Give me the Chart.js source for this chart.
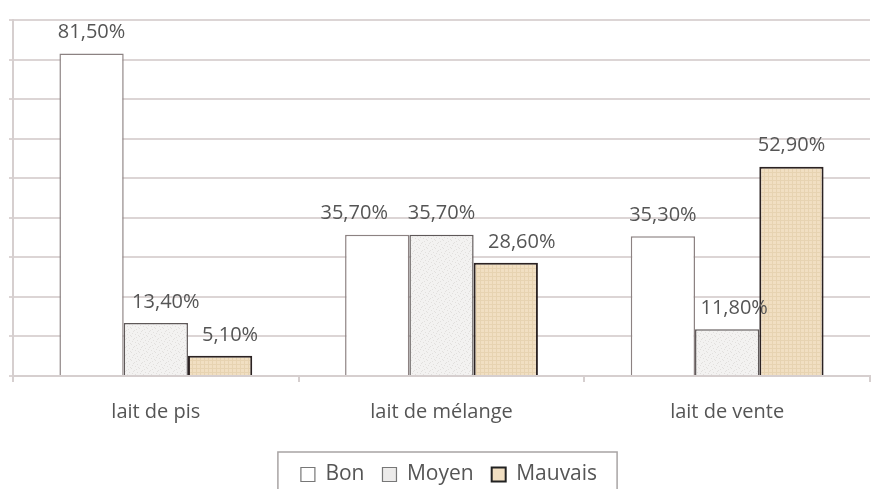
<!DOCTYPE html>
<html>
<head>
<meta charset="utf-8">
<script src="https://cdn.jsdelivr.net/npm/chart.js@4"></script>
<style>
  html, body { margin: 0; padding: 0; background: #fff; }
  #wrap { width: 871px; height: 489px; }
</style>
</head>
<body>
<div id="wrap"><canvas id="chart" width="871" height="489"></canvas></div>
<script>
// données
const categories = ['lait de pis', 'lait de mélange', 'lait de vente'];
const bon = [81.5, 35.7, 35.3];
const moyen = [13.4, 35.7, 11.8];
const mauvais = [5.1, 28.6, 52.9];

// décalage horizontal des étiquettes (comme Excel quand elles se chevauchent)
const labelShift = [[0, -23, 0], [10, 0, 7], [10, 16, 0]];

// déplacement de la légende (elle n'est pas tout à fait centrée)
const legendDx = 14, legendDy = 6;

// motifs de remplissage (texture type Excel)
function makeSpeckle() {
    const c = document.createElement('canvas');
    c.width = 8; c.height = 8;
    const g = c.getContext('2d');
    g.fillStyle = '#f3f2f1';
    g.fillRect(0, 0, 8, 8);
    g.fillStyle = '#e2e0de';
    const dots = [[0,1],[3,0],[6,2],[1,4],[4,5],[7,6],[2,7],[5,3]];
    dots.forEach(d => g.fillRect(d[0], d[1], 1, 1));
    return g.createPattern(c, 'repeat');
}
function makeWeave() {
    const c = document.createElement('canvas');
    c.width = 4; c.height = 4;
    const g = c.getContext('2d');
    g.fillStyle = '#f1dfc2';
    g.fillRect(0, 0, 4, 4);
    g.fillStyle = '#e7d3b1';
    g.fillRect(0, 0, 4, 1);
    g.fillRect(0, 0, 1, 4);
    return g.createPattern(c, 'repeat');
}

// étiquettes au-dessus des barres
const valueLabels = {
    id: 'valueLabels',
    afterDatasetsDraw(chart) {
        const ctx = chart.ctx;
        ctx.save();
        ctx.font = '20px "Open Sans"';
        ctx.fillStyle = '#555';
        ctx.textAlign = 'center';
        ctx.textBaseline = 'bottom';
        chart.data.datasets.forEach((ds, i) => {
            chart.getDatasetMeta(i).data.forEach((bar, j) => {
                const txt = ds.data[j].toFixed(2).replace('.', ',') + '%';
                ctx.fillText(txt, bar.x + labelShift[i][j], bar.y - 11);
            });
        });
        ctx.restore();
    }
};

// légende décalée + cadre autour
const legendFrame = {
    id: 'legendFrame',
    afterLayout(chart) {
        const lg = chart.legend;
        lg.left += legendDx; lg.right += legendDx;
        lg.top += legendDy; lg.bottom += legendDy;
    },
    afterDraw(chart) {
        const boxes = chart.legend.legendHitBoxes;
        if (!boxes || !boxes.length) return;
        const first = boxes[0], last = boxes[boxes.length - 1];
        const ctx = chart.ctx;
        ctx.save();
        ctx.strokeStyle = '#a8a4a4';
        ctx.lineWidth = 1.5;
        ctx.strokeRect(first.left - 23, first.top - 12,
            last.left + last.width - first.left + 43, 60);
        ctx.restore();
    }
};

new Chart(document.getElementById('chart'), {
    type: 'bar',
    data: {
        labels: categories,
        datasets: [
            { label: 'Bon', data: bon, backgroundColor: '#ffffff', borderColor: '#8c8282', borderWidth: 1.5 },
            { label: 'Moyen', data: moyen, backgroundColor: makeSpeckle(), borderColor: '#5e5858', borderWidth: 1.5 },
            { label: 'Mauvais', data: mauvais, backgroundColor: makeWeave(), borderColor: '#2b2222', borderWidth: 2 }
        ]
    },
    options: {
        responsive: false,
        animation: false,
        layout: { padding: { top: 20, right: 1, left: 0, bottom: 0 } },
        datasets: { bar: { categoryPercentage: 0.675, barPercentage: 1 } },
        scales: {
            x: {
                grid: { drawOnChartArea: false, color: '#d6cfcf', lineWidth: 2, tickLength: 6 },
                border: { color: '#d6cfcf', width: 2 },
                ticks: { color: '#555', font: { family: 'Open Sans', size: 20 }, padding: 18 },
                afterFit(s) { s.height = 64; }
            },
            y: {
                min: 0, max: 90,
                ticks: { stepSize: 10, display: false },
                grid: { color: '#dcd5d5', lineWidth: 2, tickLength: 4 },
                border: { color: '#d6cfcf', width: 2 },
                afterFit(s) { s.width = 13; }
            }
        },
        plugins: {
            tooltip: { enabled: false },
            legend: {
                position: 'bottom',
                labels: {
                    color: '#555',
                    font: { family: 'Open Sans', size: 21 },
                    boxWidth: 14, boxHeight: 14,
                    padding: 18,
                    generateLabels(chart) {
                        return chart.data.datasets.map((ds, i) => ({
                            text: ds.label,
                            fillStyle: ['#ffffff', '#ecebea', '#f1dfc2'][i],
                            strokeStyle: ['#777', '#777', '#222'][i],
                            lineWidth: i === 2 ? 2 : 1.2,
                            fontColor: '#555',
                            datasetIndex: i
                        }));
                    }
                }
            }
        }
    },
    plugins: [valueLabels, legendFrame]
});
</script>
</body>
</html>
